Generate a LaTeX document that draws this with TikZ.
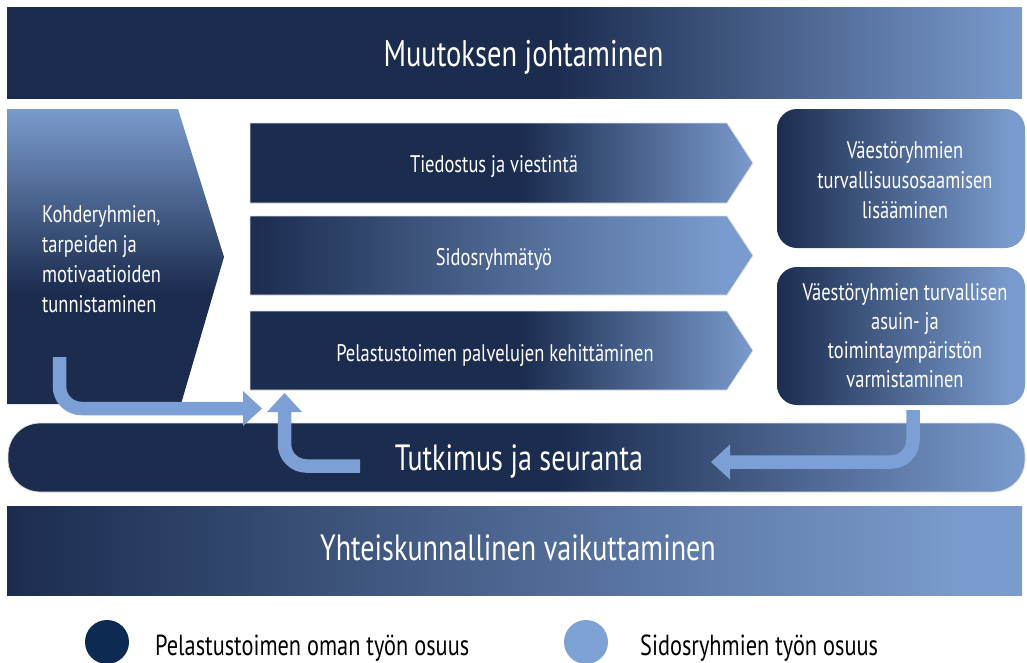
\documentclass[tikz,border=0pt]{standalone}
\usepackage{fontspec}
\setmainfont[FakeStretch=0.77]{PT Sans}
\usetikzlibrary{arrows.meta}
\definecolor{dk}{RGB}{27,44,79}
\definecolor{lt}{RGB}{122,155,205}
\definecolor{arr}{RGB}{124,160,214}
\definecolor{legdk}{RGB}{13,42,82}
\definecolor{leglt}{RGB}{127,162,213}
\pgfdeclarehorizontalshading{hdark}{100bp}{color(0bp)=(dk); color(52bp)=(dk); color(75bp)=(lt); color(100bp)=(lt)}
\pgfdeclarehorizontalshading{hlin}{100bp}{color(0bp)=(dk); color(25bp)=(dk); color(72bp)=(lt); color(100bp)=(lt)}
\pgfdeclareverticalshading{vdark}{100bp}{color(0bp)=(dk); color(44bp)=(dk); color(75bp)=(lt); color(100bp)=(lt)}
\begin{document}
\begin{tikzpicture}[x=1pt,y=-1pt,
  txt/.style={text=white, inner sep=0pt},
  edge/.style={draw=black!12, line width=0.8pt},
  conn/.style={draw=arr, line width=13.5pt, rounded corners=22pt,
    -{Triangle[width=35pt,length=19pt,line width=0pt]}}]
\useasboundingbox (0,0) rectangle (1027,662);
% top band
\path[shading=hdark] (7,7) rectangle (1022,98);
\node[txt, font=\fontsize{37}{44}\selectfont, anchor=base] (lead) at (523.5,66) {Muutoksen johtaminen};
% left pentagon
\path[shading=vdark] (7,109) -- (178,109) -- (224,257) -- (181,404) -- (7,404) -- cycle;
\node[txt, font=\fontsize{24}{30}\selectfont, align=left, anchor=west] (target) at (42,259)
  {Kohderyhmien,\\tarpeiden ja\\motivaatioiden\\tunnistaminen};
% middle arrows
\path[shading=hdark, edge] (250,123) -- (727,123) -- (753,163) -- (727,203) -- (250,203) -- cycle;
\node[txt, font=\fontsize{24}{30}\selectfont, anchor=base] (comm) at (494,172) {Tiedostus ja viestintä};
\path[shading=hlin, edge] (250,216) -- (727,216) -- (753,255.5) -- (727,295) -- (250,295) -- cycle;
\node[txt, font=\fontsize{24}{30}\selectfont, anchor=base] (stake) at (494,265) {Sidosryhmätyö};
\path[shading=hdark, edge] (250,311) -- (727,311) -- (753,350.5) -- (727,390) -- (250,390) -- cycle;
\node[txt, font=\fontsize{24}{30}\selectfont, anchor=base] (serv) at (495,361) {Pelastustoimen palvelujen kehittäminen};
% right boxes
\path[shading=hlin, rounded corners=20pt] (777,109) rectangle (1025,248);
\node[txt, font=\fontsize{24}{30}\selectfont, align=center] (know) at (905,180)
  {Väestöryhmien\\turvallisuusosaamisen\\lisääminen};
\path[shading=hlin, rounded corners=20pt] (777,267) rectangle (1025,405);
\node[txt, font=\fontsize{24}{29}\selectfont, align=center] (env) at (905,336)
  {Väestöryhmien turvallisen\\asuin- ja\\toimintaympäristön\\varmistaminen};
% research band
\path[shading=hdark, edge, rounded corners=32pt] (8,423) rectangle (1025,492);
\node[txt, font=\fontsize{36.5}{40}\selectfont, anchor=base] (research) at (519,470) {Tutkimus ja seuranta};
% bottom band
\path[shading=hlin] (7,506) rectangle (1022,595);
\node[txt, font=\fontsize{36.5}{40}\selectfont, anchor=base] (society) at (518,560) {Yhteiskunnallinen vaikuttaminen};
% connectors
\coordinate (aS) at (59.5,357); \coordinate (aE) at (262,408.5);
\draw[conn] (aS) |- (aE);
\coordinate (bS) at (360,466); \coordinate (bE) at (284.5,393);
\draw[conn] (bS) -| (bE);
\coordinate (cS) at (913,410); \coordinate (cE) at (711,462);
\draw[conn] (cS) |- (cE);
% legend
\node[circle, fill=legdk, minimum size=44pt, inner sep=0pt] (dot1) at (107,642) {};
\node[font=\fontsize{29}{34}\selectfont, anchor=base west, inner sep=0pt] (leg1) at (155,655) {Pelastustoimen oman työn osuus};
\node[circle, fill=leglt, minimum size=44pt, inner sep=0pt] (dot2) at (586,642) {};
\node[font=\fontsize{29}{34}\selectfont, anchor=base west, inner sep=0pt] (leg2) at (640,655) {Sidosryhmien työn osuus};
\end{tikzpicture}
\end{document}
